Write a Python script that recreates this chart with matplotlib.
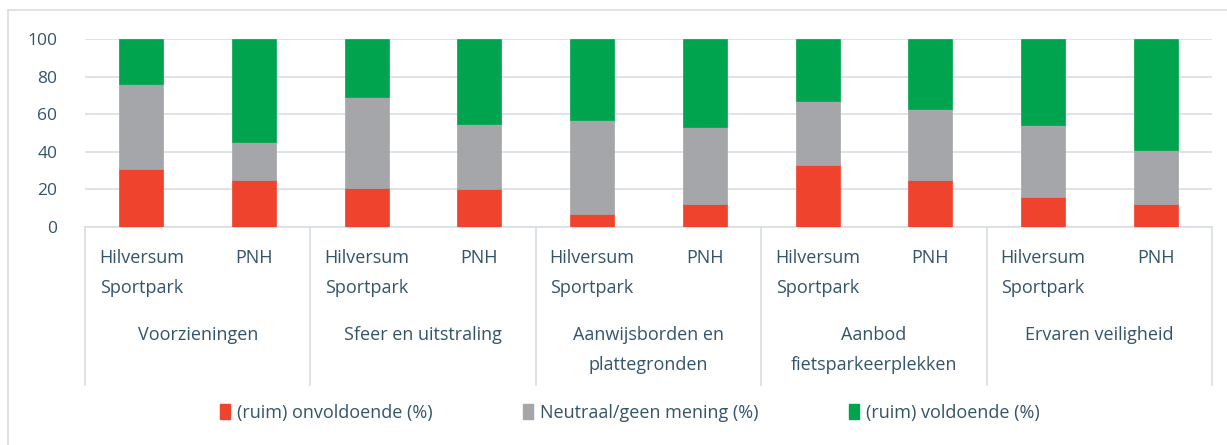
import matplotlib.pyplot as plt
from matplotlib.patches import Patch
import numpy as np

# Data
groups = ["Voorzieningen", "Sfeer en uitstraling", "Aanwijsborden en\nplattegronden",
          "Aanbod\nfietsparkeerplekken", "Ervaren veiligheid"]
bar_labels = ["Hilversum\nSportpark", "PNH"] * 5
onvoldoende = [31, 25, 21, 20, 7, 12, 33, 25, 16, 12]
neutraal = [45, 20, 48, 35, 50, 41, 34, 38, 38, 29]
voldoende = [24, 55, 31, 45, 43, 47, 33, 37, 46, 59]
series_names = ["(ruim) onvoldoende (%)", "Neutraal/geen mening (%)", "(ruim) voldoende (%)"]

colors = ["#EF432D", "#A5A6A9", "#00A44E"]
text_color = "#34546A"
grid_color = "#D9DEE5"

plt.rcParams['font.family'] = ['Open Sans', 'DejaVu Sans']

W, H = 1227, 445
y0, y100 = 227, 39
fig = plt.figure(figsize=(W / 100, H / 100), dpi=100)
ax = fig.add_axes([85 / W, 1 - y0 / H, (1212 - 85) / W, (y0 - y100) / H])


def frac(py):
    # pixel row -> axes fraction
    return (y0 - py) / (y0 - y100)


x = np.arange(len(onvoldoende))
width = 0.39
bottom = np.zeros(len(x))
for vals, c in zip([onvoldoende, neutraal, voldoende], colors):
    ax.bar(x, vals, width, bottom=bottom, color=c, edgecolor=c, linewidth=0.5, zorder=3)
    bottom += np.array(vals)

ax.set_xlim(-0.5, len(x) - 0.5)
ax.set_ylim(0, 100)
ax.set_yticks(range(0, 101, 20))
ax.yaxis.grid(True, color=grid_color, linewidth=1.2, zorder=0)
ax.tick_params(axis='y', length=0, labelsize=12.5, labelcolor=text_color, pad=20)
ax.set_xticks([])
for s in ["top", "right", "left"]:
    ax.spines[s].set_visible(False)
ax.spines["bottom"].set_color(grid_color)
ax.spines["bottom"].set_linewidth(1.2)

trans = ax.get_xaxis_transform()
# bar labels
for xi, lab in zip(x, bar_labels):
    for li, line in enumerate(lab.split("\n")):
        ax.text(xi, frac(258 + 30 * li), line, transform=trans, ha='center', va='center',
                fontsize=13, color=text_color)
# group labels
for gi, g in enumerate(groups):
    for li, line in enumerate(g.split("\n")):
        ax.text(2 * gi + 0.5, frac(335 + 30 * li), line, transform=trans, ha='center',
                va='center', fontsize=13, color=text_color)
# group separators
for sx in np.arange(-0.5, len(x), 2):
    ax.plot([sx, sx], [0, frac(385)], transform=trans, color=grid_color, linewidth=1.2,
            clip_on=False)

# outer chart border (left and top)
fig.add_artist(plt.Line2D([8 / W, 8 / W], [0, 1 - 10 / H], color=grid_color, linewidth=1.2))
fig.add_artist(plt.Line2D([8 / W, 1], [1 - 10 / H, 1 - 10 / H], color=grid_color, linewidth=1.2))

handles = [Patch(facecolor=c, edgecolor=c) for c in colors]
fig.legend(handles, series_names, loc='center', bbox_to_anchor=(630 / W, 1 - 413 / H),
           ncol=3, frameon=False, fontsize=13, labelcolor=text_color,
           handlelength=0.55, handleheight=0.9, handletextpad=0.4, columnspacing=5)

fig.savefig("out.png", dpi=100)
